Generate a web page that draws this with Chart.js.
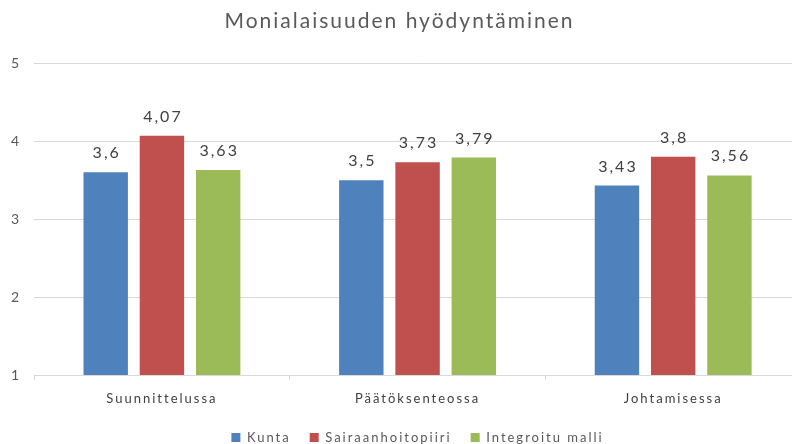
<!DOCTYPE html>
<html>
<head>
<meta charset="utf-8">
<script src="https://cdn.jsdelivr.net/npm/chart.js@4"></script>
<style>
  html, body { margin: 0; padding: 0; background: #fff; overflow: hidden; }
  #wrap { width: 801px; height: 444px; }
</style>
</head>
<body>
<div id="wrap"><canvas id="chart"></canvas></div>
<script>
const categories = ['Suunnittelussa', 'Päätöksenteossa', 'Johtamisessa'];
const kunta = [3.6, 3.5, 3.43];
const sairaanhoitopiiri = [4.07, 3.73, 3.8];
const integroitu = [3.63, 3.79, 3.56];
const seriesNames = ['Kunta', 'Sairaanhoitopiiri', 'Integroitu malli'];
const colors = ['#4F81BD', '#C0504D', '#9BBB59'];

const FONT = 'Lato, "Open Sans", sans-serif';

// the original text is rendered rather wide, so space the letters out a bit
const spacing = {
  id: 'spacing',
  beforeUpdate(chart) { chart.ctx.letterSpacing = '2px'; },
  beforeDraw(chart) { chart.ctx.letterSpacing = '2px'; }
};

// draws the value above each bar, with a comma as decimal separator
const valueLabels = {
  id: 'valueLabels',
  afterDatasetsDraw(chart) {
    const ctx = chart.ctx;
    ctx.save();
    ctx.font = '16px ' + FONT;
    ctx.fillStyle = '#404040';
    ctx.textAlign = 'center';
    ctx.textBaseline = 'alphabetic';
    chart.data.datasets.forEach((ds, i) => {
      chart.getDatasetMeta(i).data.forEach((bar, j) => {
        const txt = String(ds.data[j]).replace('.', ',');
        ctx.fillText(txt, bar.x + 1, bar.y - 14);
      });
    });
    ctx.restore();
  }
};

new Chart(document.getElementById('chart'), {
  type: 'bar',
  data: {
    labels: categories,
    datasets: [
      { label: seriesNames[0], data: kunta, backgroundColor: colors[0] },
      { label: seriesNames[1], data: sairaanhoitopiiri, backgroundColor: colors[1] },
      { label: seriesNames[2], data: integroitu, backgroundColor: colors[2] }
    ]
  },
  options: {
    responsive: true,
    maintainAspectRatio: false,
    animation: false,
    categoryPercentage: 0.66,
    barPercentage: 0.79,
    layout: { padding: { left: -2, right: 0, top: 0, bottom: -10 } },
    plugins: {
      title: {
        display: true,
        text: 'Monialaisuuden hyödyntäminen',
        color: '#595959',
        font: { family: FONT, size: 21, weight: 'normal' },
        padding: { top: 9, bottom: 29 }
      },
      legend: {
        position: 'bottom',
        fullSize: false,
        labels: {
          boxWidth: 9,
          boxHeight: 9,
          color: '#595959',
          font: { family: FONT, size: 13 },
          padding: 19
        }
      },
      tooltip: { enabled: false }
    },
    scales: {
      x: {
        grid: { display: true, drawOnChartArea: false, tickLength: 5, color: '#d9d9d9' },
        border: { color: '#d9d9d9' },
        ticks: { color: '#404040', font: { family: FONT, size: 13 }, padding: 11 },
        afterFit(scale) { scale.height = 37; }
      },
      y: {
        min: 1,
        max: 5,
        ticks: { stepSize: 1, color: '#595959', font: { family: FONT, size: 14 }, padding: 13 },
        grid: { color: '#d9d9d9', drawTicks: false },
        border: { display: false }
      }
    }
  },
  plugins: [spacing, valueLabels]
});
</script>
</body>
</html>
